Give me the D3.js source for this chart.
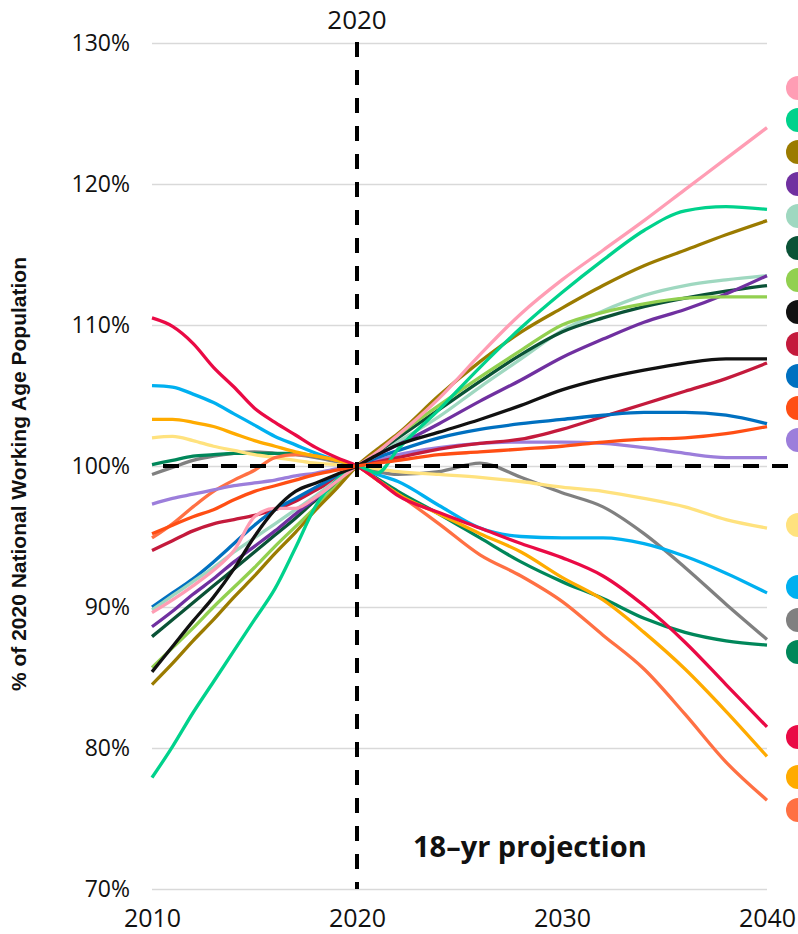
<!DOCTYPE html>
<html>
<head>
<meta charset="utf-8">
<script src="https://cdn.jsdelivr.net/npm/d3@7"></script>
<style>
  html, body { margin: 0; padding: 0; background: #ffffff; }
  svg { display: block; }
</style>
</head>
<body>
<svg id="chart" width="798" height="934"></svg>
<script>
// ---------------- DATA ----------------
const years = [2010, 2011, 2012, 2013, 2014, 2015, 2016, 2017, 2018, 2019, 2020,
               2021, 2022, 2024, 2026, 2028, 2030, 2032, 2034, 2036, 2038, 2040];

const yTicks = [70, 80, 90, 100, 110, 120, 130];
const xTicks = [2010, 2020, 2030, 2040];

const seriesNames = ["pink", "brightGreen", "olive", "purple", "mint", "darkGreen", "lightGreen",
  "black", "crimson", "blue", "orangeRed", "lavender", "yellow", "skyBlue", "gray", "green",
  "red", "orange", "coral"];

const pink        = [89.6, 90.5, 91.5, 92.6, 94.0, 96.4, 97.0, 97.0, 97.8, 98.9, 100, 101.0, 102.2, 104.8, 107.9, 110.8, 113.2, 115.3, 117.4, 119.6, 121.8, 124.0];
const brightGreen = [77.9, 80.1, 82.5, 84.7, 86.9, 89.1, 91.3, 94.2, 97.2, 99.0, 100, 99.5, 101.2, 104.0, 107.0, 109.8, 112.3, 114.6, 116.7, 118.1, 118.4, 118.2];
const olive       = [84.5, 86.0, 87.6, 89.1, 90.7, 92.2, 93.8, 95.3, 96.9, 98.4, 100, 101.2, 102.3, 105.0, 107.4, 109.5, 111.2, 112.8, 114.2, 115.3, 116.4, 117.4];
const purple      = [88.6, 89.7, 90.9, 92.0, 93.2, 94.3, 95.4, 96.6, 97.7, 98.9, 100, 100.8, 101.5, 103.0, 104.6, 106.1, 107.7, 109.0, 110.2, 111.1, 112.2, 113.5];
const mint        = [89.8, 90.8, 91.8, 92.8, 93.9, 94.9, 95.9, 96.9, 97.9, 99.0, 100, 100.8, 101.7, 103.5, 105.6, 107.6, 109.6, 111.0, 112.1, 112.8, 113.2, 113.5];
const darkGreen   = [87.9, 89.1, 90.3, 91.5, 92.7, 93.9, 95.1, 96.3, 97.6, 98.8, 100, 101.0, 102.0, 104.0, 106.0, 107.9, 109.5, 110.5, 111.3, 111.9, 112.4, 112.8];
const lightGreen  = [85.7, 87.1, 88.5, 90.0, 91.4, 92.8, 94.3, 95.7, 97.1, 98.6, 100, 101.1, 102.2, 104.3, 106.3, 108.2, 110.0, 110.9, 111.5, 111.9, 112.0, 112.0];
const black       = [85.4, 87.2, 89.0, 90.7, 92.7, 95.0, 96.9, 98.2, 98.8, 99.4, 100, 100.8, 101.5, 102.4, 103.3, 104.3, 105.4, 106.2, 106.8, 107.3, 107.6, 107.6];
const crimson     = [94.0, 94.7, 95.4, 95.9, 96.2, 96.5, 96.9, 97.5, 98.3, 99.1, 100, 100.3, 100.6, 101.2, 101.6, 101.9, 102.6, 103.5, 104.4, 105.3, 106.2, 107.3];
const blue        = [90.0, 91.0, 92.0, 93.2, 94.5, 95.8, 96.9, 97.7, 98.5, 99.3, 100, 100.6, 101.1, 102.0, 102.6, 103.0, 103.3, 103.6, 103.8, 103.8, 103.6, 103.0];
const orangeRed   = [95.2, 95.8, 96.4, 96.9, 97.6, 98.2, 98.6, 99.0, 99.4, 99.7, 100, 100.2, 100.4, 100.8, 101.0, 101.2, 101.4, 101.7, 101.9, 102.0, 102.3, 102.8];
const lavender    = [97.3, 97.7, 98.0, 98.3, 98.6, 98.8, 99.0, 99.3, 99.5, 99.8, 100, 100.4, 100.8, 101.3, 101.6, 101.7, 101.7, 101.6, 101.3, 100.9, 100.6, 100.6];
const yellow      = [102.0, 102.1, 101.8, 101.4, 101.1, 100.8, 100.6, 100.4, 100.2, 100.1, 100, 99.8, 99.6, 99.4, 99.2, 98.9, 98.5, 98.2, 97.7, 97.1, 96.2, 95.6];
const skyBlue     = [105.7, 105.6, 105.1, 104.5, 103.7, 102.9, 102.1, 101.5, 100.9, 100.4, 100, 99.4, 98.9, 97.2, 95.6, 95.0, 94.9, 94.9, 94.5, 93.6, 92.4, 91.0];
const gray        = [99.4, 99.9, 100.4, 100.7, 100.9, 101.0, 100.9, 100.8, 100.6, 100.3, 100, 99.6, 99.4, 99.6, 100.2, 99.2, 98.1, 97.1, 95.2, 92.8, 90.2, 87.7];
const green       = [100.1, 100.4, 100.7, 100.8, 100.9, 100.9, 100.9, 100.9, 100.7, 100.4, 100, 99.1, 98.2, 96.6, 94.9, 93.2, 91.8, 90.6, 89.2, 88.2, 87.6, 87.3];
const red         = [110.5, 109.9, 108.7, 107.0, 105.6, 104.1, 103.1, 102.2, 101.3, 100.6, 100, 99.0, 97.9, 96.7, 95.6, 94.5, 93.5, 92.2, 90.1, 87.5, 84.5, 81.5];
const orange      = [103.3, 103.3, 103.1, 102.8, 102.3, 101.8, 101.4, 101.0, 100.7, 100.4, 100, 99.0, 98.0, 96.6, 95.2, 93.9, 92.1, 90.5, 88.2, 85.6, 82.6, 79.4];
const coral       = [94.9, 95.9, 97.1, 98.2, 99.0, 99.7, 100.6, 100.8, 100.7, 100.4, 100, 99.0, 98.0, 95.9, 93.7, 92.2, 90.4, 88.0, 85.6, 82.4, 79.0, 76.3];

const valuesByName = { pink, brightGreen, olive, purple, mint, darkGreen, lightGreen, black,
  crimson, blue, orangeRed, lavender, yellow, skyBlue, gray, green, red, orange, coral };

// ---------------- STYLE ----------------
const colors = {
  pink: "#ff9db4", brightGreen: "#00d28c", olive: "#9b7b00", purple: "#7030a0",
  mint: "#9fd8c0", darkGreen: "#0a5236", lightGreen: "#92d050", black: "#111111",
  crimson: "#c41a3c", blue: "#0070c0", orangeRed: "#ff4e14", lavender: "#9c7edb",
  yellow: "#ffe27e", skyBlue: "#00b0f0", gray: "#808080", green: "#00875a",
  red: "#ea0a45", orange: "#ffab00", coral: "#ff7043"
};

const W = 798, H = 934;
const svg = d3.select("#chart");

const x = d3.scaleLinear().domain([2010, 2040]).range([152, 767]);
const y = d3.scaleLinear().domain([70, 130]).range([889, 43]);

const tickFont = "'Open Sans', sans-serif";

// gridlines
svg.append("g")
  .attr("transform", `translate(${x(2010)},0)`)
  .call(d3.axisLeft(y).tickValues(yTicks).tickSize(-(x(2040) - x(2010))).tickFormat(""))
  .call(g => g.select(".domain").remove())
  .call(g => g.selectAll("line").attr("stroke", "#d9d9d9").attr("stroke-width", 1.6));

// y axis labels
svg.append("g")
  .attr("transform", `translate(${x(2010)},0)`)
  .call(d3.axisLeft(y).tickValues(yTicks).tickSize(0).tickPadding(22).tickFormat(d => d + "%"))
  .call(g => g.select(".domain").remove())
  .call(g => g.selectAll("text").attr("font-family", tickFont).attr("font-size", 23).attr("fill", "#111"));

// x axis labels
svg.append("g")
  .attr("transform", `translate(0,${y(70)})`)
  .call(d3.axisBottom(x).tickValues(xTicks).tickSize(0).tickPadding(20).tickFormat(d3.format("d")))
  .call(g => g.select(".domain").remove())
  .call(g => g.selectAll("text").attr("font-family", tickFont).attr("font-size", 25).attr("fill", "#111"));

// lines
const line = d3.line()
  .x((d, i) => x(years[i]))
  .y(d => y(d))
  .curve(d3.curveMonotoneX);

const drawOrder = ["gray", "green", "yellow", "skyBlue", "coral", "orange", "red",
  "lavender", "crimson", "blue", "mint", "darkGreen", "purple", "lightGreen", "olive",
  "brightGreen", "pink", "black", "orangeRed"];

svg.append("g").selectAll("path")
  .data(drawOrder)
  .join("path")
  .attr("d", n => line(valuesByName[n]))
  .attr("fill", "none")
  .attr("stroke", n => colors[n])
  .attr("stroke-width", 3.3)
  .attr("stroke-linejoin", "round")
  .attr("stroke-linecap", "butt");

// dashed reference lines
svg.append("line")
  .attr("x1", 163).attr("x2", W)
  .attr("y1", y(100)).attr("y2", y(100))
  .attr("stroke", "#000").attr("stroke-width", 4)
  .attr("stroke-dasharray", "16,13");

svg.append("line")
  .attr("x1", x(2020)).attr("x2", x(2020))
  .attr("y1", y(130) - 1).attr("y2", y(70))
  .attr("stroke", "#000").attr("stroke-width", 4)
  .attr("stroke-dasharray", "15,13");

// annotations
svg.append("text")
  .attr("x", x(2020)).attr("y", 29)
  .attr("text-anchor", "middle")
  .attr("font-family", tickFont).attr("font-size", 26).attr("fill", "#111")
  .text("2020");

svg.append("text")
  .attr("x", 413).attr("y", 857)
  .attr("font-family", "'Open Sans', sans-serif").attr("font-weight", 700)
  .attr("font-size", 29).attr("fill", "#111")
  .text("18–yr projection");

svg.append("text")
  .attr("transform", `translate(26,474) rotate(-90)`)
  .attr("text-anchor", "middle")
  .attr("font-family", "'Liberation Sans', Arial, sans-serif").attr("font-weight", 700)
  .attr("font-size", 21).attr("fill", "#111")
  .text("% of 2020 National Working Age Population");

// legend dots (labels fall outside the visible frame)
const legendBottomY = { yellow: 525, skyBlue: 587, gray: 620, green: 652, red: 737, orange: 777, coral: 810 };
const legendPos = seriesNames.map((n, i) => ({ n, cy: i < 12 ? 88 + i * 32 : legendBottomY[n] }));

svg.append("g").selectAll("circle")
  .data(legendPos)
  .join("circle")
  .attr("cx", 798)
  .attr("cy", d => d.cy)
  .attr("r", 12)
  .attr("fill", d => colors[d.n]);
</script>
</body>
</html>
